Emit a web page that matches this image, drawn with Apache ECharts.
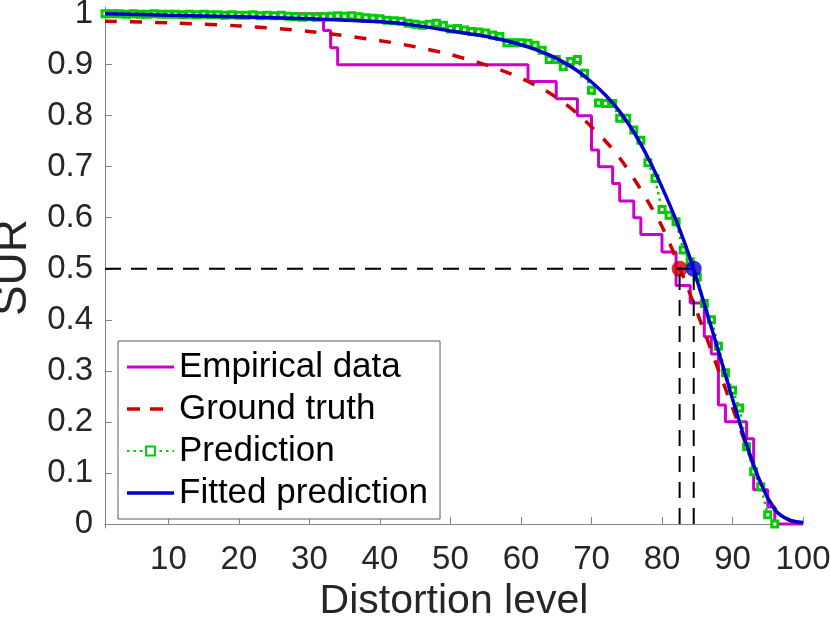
<!DOCTYPE html>
<html>
<head>
<meta charset="utf-8">
<script src="https://cdn.jsdelivr.net/npm/echarts@6/dist/echarts.min.js"></script>
<style>
  html, body { margin: 0; padding: 0; background: #fff; }
  #chart { width: 830px; height: 625px; }
</style>
</head>
<body>
<div id="chart"></div>
<script>
// ---- Data ----
var xTicks = [10, 20, 30, 40, 50, 60, 70, 80, 90, 100];
var yTicks = [0, 0.1, 0.2, 0.3, 0.4, 0.5, 0.6, 0.7, 0.8, 0.9, 1];

// Empirical data (step function, value changes at these x)
var empX = [1, 32, 33, 34, 61, 65, 68, 70, 71, 73, 74, 76, 77, 80, 82, 84, 86, 87, 88, 89, 92, 93, 95, 96, 100];
var empY = [1, 0.967, 0.933, 0.9, 0.867, 0.833, 0.8, 0.733, 0.7, 0.667, 0.633, 0.6, 0.567, 0.533, 0.467, 0.433, 0.367, 0.333, 0.233, 0.2, 0.167, 0.067, 0.033, 0, 0];

// Ground truth
var gtX = [1, 10, 20, 30, 40, 45, 50, 52, 54, 56, 58, 60, 62, 64, 66, 68, 70, 72, 74, 76, 78, 80, 82, 84, 86, 88, 90, 92, 94, 96, 98, 100];
var gtY = [0.985, 0.982, 0.976, 0.965, 0.947, 0.935, 0.92, 0.912, 0.904, 0.895, 0.885, 0.874, 0.86, 0.845, 0.826, 0.804, 0.778, 0.75, 0.717, 0.677, 0.632, 0.583, 0.52, 0.45, 0.377, 0.302, 0.228, 0.152, 0.08, 0.03, 0.008, 0.002];

// Prediction (one value per integer distortion level 1..96)
var predY = [1.000, 1.000, 1.000, 0.999, 1.000, 0.999, 0.999, 1.000, 0.999, 0.999,
             0.999, 0.998, 0.999, 0.998, 0.999, 0.998, 0.998, 0.997, 0.998, 0.997,
             0.997, 0.998, 0.996, 0.997, 0.996, 0.997, 0.995, 0.994, 0.993, 0.994,
             0.993, 0.994, 0.995, 0.996, 0.995, 0.996, 0.994, 0.992, 0.991, 0.990,
             0.987, 0.986, 0.985, 0.981, 0.979, 0.977, 0.979, 0.981, 0.977, 0.970,
             0.971, 0.968, 0.965, 0.964, 0.962, 0.958, 0.955, 0.943, 0.943, 0.943,
             0.942, 0.938, 0.928, 0.910, 0.910, 0.896, 0.906, 0.910, 0.883, 0.850,
             0.825, 0.824, 0.824, 0.795, 0.795, 0.772, 0.752, 0.708, 0.677, 0.616,
             0.605, 0.592, 0.537, 0.514, 0.484, 0.432, 0.400, 0.348, 0.296, 0.262,
             0.227, 0.151, 0.102, 0.073, 0.018, 0.000];

// Fitted prediction
var fitX = [1, 10, 20, 30, 40, 45, 50, 52, 54, 56, 58, 60, 62, 64, 66, 68, 70, 72, 74, 76, 78, 80, 82, 84, 86, 88, 90, 92, 94, 96, 98, 100];
var fitY = [1.0, 0.997, 0.994, 0.99, 0.984, 0.977, 0.966, 0.962, 0.958, 0.9525, 0.9465, 0.939, 0.93, 0.919, 0.905, 0.888, 0.866, 0.84, 0.808, 0.768, 0.718, 0.66, 0.595, 0.52, 0.431, 0.339, 0.245, 0.155, 0.08, 0.028, 0.008, 0.003];

// 50% crossing
var halfLevel = 0.5;
var gtCrossX = 82.5;
var fitCrossX = 84.5;

// ---- Helpers ----
function zip(xs, ys) { return xs.map(function (x, i) { return [x, ys[i]]; }); }
var predData = predY.map(function (y, i) { return [i + 1, y]; });

var FONT = "'Liberation Sans', Arial, Helvetica, sans-serif";
var AXIS_COLOR = '#858585';
var TEXT_COLOR = '#262626';
var C_EMP = '#CC00CC', C_GT = '#CC0000', C_PRED = '#00CC00', C_FIT = '#0000CC';

var chart = echarts.init(document.getElementById('chart'), null, { renderer: 'canvas' });
chart.setOption({
  animation: false,
  backgroundColor: '#ffffff',
  textStyle: { fontFamily: FONT },
  grid: { left: 105, right: 27, top: 7, bottom: 97, containLabel: false, outerBoundsMode: 'none' },
  xAxis: {
    type: 'value', min: 1, max: 100,
    name: 'Distortion level', nameLocation: 'middle', nameGap: 47,
    nameTextStyle: { fontSize: 41, color: TEXT_COLOR, fontFamily: FONT },
    axisLine: { show: true, lineStyle: { color: AXIS_COLOR, width: 1 } },
    axisTick: { show: true, inside: true, length: 7, customValues: xTicks, lineStyle: { color: AXIS_COLOR } },
    axisLabel: { customValues: xTicks, fontSize: 33, color: TEXT_COLOR, margin: 15, fontFamily: FONT },
    splitLine: { show: false }
  },
  yAxis: {
    type: 'value', min: -0.008, max: 1.013,
    name: 'SUR', nameLocation: 'middle', nameGap: 65, nameRotate: 90,
    nameTextStyle: { fontSize: 46, color: TEXT_COLOR, fontFamily: FONT },
    axisLine: { show: true, lineStyle: { color: AXIS_COLOR, width: 1 } },
    axisTick: { show: true, inside: true, length: 7, customValues: yTicks, lineStyle: { color: AXIS_COLOR } },
    axisLabel: { customValues: yTicks, fontSize: 33, color: TEXT_COLOR, margin: 12, fontFamily: FONT,
                 formatter: function (v) { return String(Math.round(v * 10) / 10); } },
    splitLine: { show: false }
  },
  legend: {
    orient: 'vertical', left: 118, top: 341,
    backgroundColor: '#ffffff', borderColor: '#5a5a5a', borderWidth: 1,
    padding: [7, 12, 7, 8],
    itemWidth: 47, itemHeight: 11, itemGap: 4,
    selectedMode: false,
    textStyle: { fontSize: 35, color: '#000000', lineHeight: 38, fontFamily: FONT },
    data: [
      { name: 'Empirical data', icon: 'path://M0,0H47V3H0Z' },
      { name: 'Ground truth', icon: 'path://M0,0H13V3.5H0Z M23,0H36V3.5H23Z M47,0' },
      { name: 'Prediction' },
      { name: 'Fitted prediction', icon: 'path://M0,0H47V3.5H0Z' }
    ]
  },
  series: [
    {
      name: 'Empirical data', type: 'line', step: 'end',
      data: zip(empX, empY), symbol: 'none', z: 2,
      lineStyle: { color: C_EMP, width: 3 }, itemStyle: { color: C_EMP }
    },
    {
      name: 'Ground truth', type: 'line', smooth: 0.3,
      data: zip(gtX, gtY), symbol: 'none', z: 3,
      lineStyle: { color: C_GT, width: 3.5, type: [12, 13] }, itemStyle: { color: C_GT }
    },
    {
      name: 'Prediction', type: 'line',
      data: predData, symbol: 'rect', symbolSize: 6, showAllSymbol: true, z: 4,
      lineStyle: { color: C_PRED, width: 2.5, type: [2.5, 4] },
      itemStyle: { color: '#ffffff', borderColor: C_PRED, borderWidth: 3 }
    },
    {
      name: 'Fitted prediction', type: 'line', smooth: 0.3,
      data: zip(fitX, fitY), symbol: 'none', z: 5,
      lineStyle: { color: C_FIT, width: 3.5 }, itemStyle: { color: C_FIT }
    },
    {
      name: 'gtDot', type: 'scatter', data: [[gtCrossX, halfLevel]],
      symbol: 'circle', symbolSize: 16, z: 6, itemStyle: { color: C_GT }
    },
    {
      name: 'hline', type: 'line', data: [[1, halfLevel], [fitCrossX, halfLevel]],
      symbol: 'none', z: 7, lineStyle: { color: '#000000', width: 2, type: [16, 10] }
    },
    {
      name: 'vline1', type: 'line', data: [[gtCrossX, 0], [gtCrossX, halfLevel]],
      symbol: 'none', z: 7, lineStyle: { color: '#000000', width: 2, type: [16, 10] }
    },
    {
      name: 'vline2', type: 'line', data: [[fitCrossX, 0], [fitCrossX, halfLevel]],
      symbol: 'none', z: 7, lineStyle: { color: '#000000', width: 2, type: [16, 10] }
    },
    {
      name: 'fitDot', type: 'scatter', data: [[fitCrossX, halfLevel]],
      symbol: 'circle', symbolSize: 16, z: 8, itemStyle: { color: C_FIT }
    }
  ]
});
</script>
</body>
</html>
